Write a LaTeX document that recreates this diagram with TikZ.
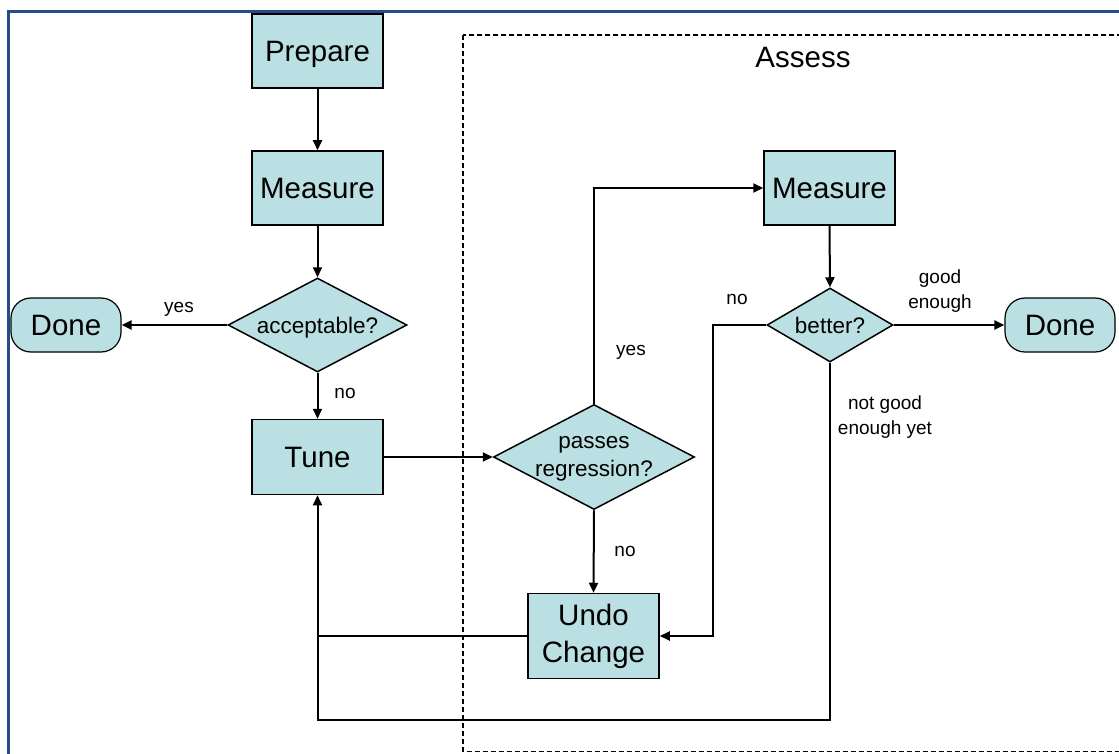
\documentclass[tikz,border=0pt]{standalone}
\usepackage{fontspec}
\setmainfont{Liberation Sans}
\usetikzlibrary{arrows.meta,shapes.geometric}
\definecolor{framblue}{RGB}{36,77,135}
\definecolor{boxfill}{RGB}{187,224,227}
\tikzset{
  capcenter/.style={text height=#1, text depth=0pt},
  bigcap/.style={capcenter=21.1pt},
  midcap/.style={capcenter=16.1pt},
  procbox/.style={draw=black, line width=1.5pt, fill=boxfill, minimum width=131pt,
    minimum height=74pt, inner sep=0pt, align=center,
    font=\fontsize{29.5}{36}\selectfont},
  endbox/.style={draw=black, line width=1.2pt, fill=boxfill, rounded corners=20pt,
    minimum width=110pt, minimum height=54pt, inner sep=0pt, bigcap,
    font=\fontsize{29.5}{36}\selectfont},
  decide/.style={draw=black, line width=1.5pt, fill=boxfill, diamond, inner sep=0pt},
  decidetext/.style={align=center, inner sep=0pt, font=\fontsize{22.5}{28}\selectfont},
  edgelabel/.style={align=center, inner sep=0pt, font=\fontsize{19}{25}\selectfont},
  arr/.style={line width=2pt, -{Triangle[length=10pt,width=9pt]}},
  plain/.style={line width=2pt},
}
\begin{document}
\begin{tikzpicture}[x=1pt,y=-1pt]
\clip (0,0) rectangle (1119,754);
\fill[white] (0,0) rectangle (1119,754);

% outer frame
\draw[framblue, line width=3pt] (8.7,800) -- (8.7,11.7) -- (1200,11.7);

% Assess group
\draw[black, line width=1.3pt, dash pattern=on 5pt off 3pt] (463,35) rectangle (1140,751.5);
\node[font=\fontsize{29.5}{36}\selectfont, inner sep=0pt, bigcap] (assess) at (803,57) {Assess};

% nodes
\node[procbox, bigcap] (prep) at (317.5,51) {Prepare};
\node[procbox, bigcap] (meas1) at (317.5,188) {Measure};
\node[decide, minimum width=179pt, minimum height=94pt] (acc) at (317.5,325) {};
\node[decidetext, midcap] (acctext) at (acc.center) {acceptable?};
\node[endbox] (done1) at (66,325) {Done};
\node[procbox, bigcap, minimum height=75pt] (tune) at (317.5,457) {Tune};
\node[decide, minimum width=201pt, minimum height=105pt] (pass) at (594,457) {};
\node[decidetext] (passtext) at (594,459) {passes\\regression?};
\node[procbox, minimum height=85pt, font=\fontsize{29.5}{37}\selectfont] (undo) at (593.5,636) {Undo\\Change};
\node[procbox, bigcap] (meas2) at (829.5,188) {Measure};
\node[decide, minimum width=126pt, minimum height=74pt] (better) at (830,325) {};
\node[decidetext, midcap] (bettertext) at (better.center) {better?};
\node[endbox] (done2) at (1060,325) {Done};

% helper corners
\coordinate (nojog) at (713,325);
\coordinate (loopcorner) at (830,720);

% connectors
\draw[arr] (prep) -- (meas1);
\draw[arr] (meas1) -- (acc);
\draw[arr] (acc.west) -- (done1.east);
\draw[arr] (acc.south) -- (tune.north);
\draw[arr] (tune.east) -- (pass.west);
\draw[arr] (pass.north) |- (meas2.west);
\draw[arr] (pass.south) -- (undo.north);
\draw[arr] (meas2.south) -- (better.north);
\draw[arr] (better.east) -- (done2.west);
\draw[arr] (better.west) -- (nojog) |- (undo.east);
\draw[arr] (better.south) -- (loopcorner) -| (tune.south);
\draw[plain] (undo.west) -- (tune.south |- undo.west);

% connector labels
\node[edgelabel] (lyes1) at (179,309) {yes};
\node[edgelabel] (lno1) at (345,393) {no};
\node[edgelabel] (lyes2) at (631,352) {yes};
\node[edgelabel] (lno2) at (625,551) {no};
\node[edgelabel] (lno3) at (737,299) {no};
\node[edgelabel] (lgood) at (940,291) {good\\enough};
\node[edgelabel] (lnotgood) at (885,417) {not good\\enough yet};
\end{tikzpicture}
\end{document}
